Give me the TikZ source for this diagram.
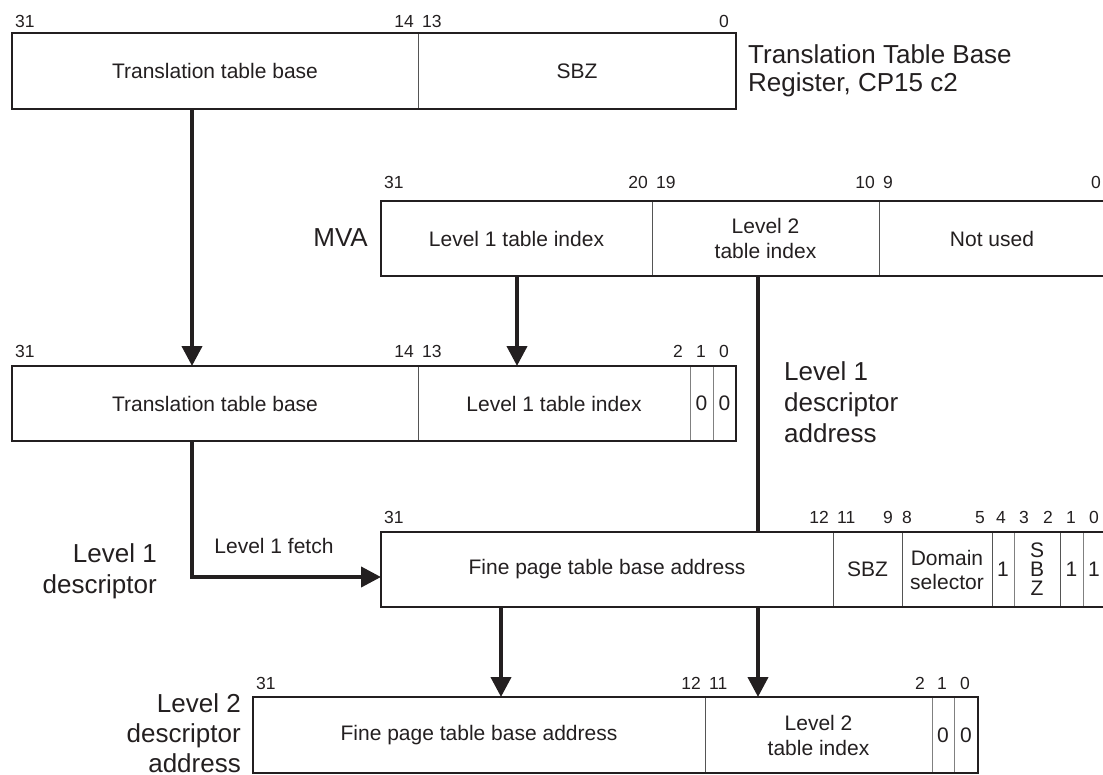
\documentclass[tikz,border=0pt]{standalone}
\usepackage{fontspec}
\setmainfont{Liberation Sans}
\usetikzlibrary{arrows.meta}
\definecolor{ink}{HTML}{231F20}
\definecolor{thinc}{HTML}{555555}
\newcommand\cfnt{\fontsize{21}{25}\selectfont}
\newcommand\bfnt{\fontsize{17.5}{20}\selectfont}
\newcommand\lfnt{\fontsize{26}{31}\selectfont}
\begin{document}
\begin{tikzpicture}[x=1pt,y=-1pt,
  cell/.style={draw=thinc, line width=0.9pt, inner sep=0pt, outer sep=0pt, anchor=north west, align=center, font=\cfnt, text=ink},
  reg/.style={draw=ink, line width=2pt},
  bit/.style={font=\bfnt, inner sep=0pt, text=ink},
  big/.style={font=\lfnt, inner sep=0pt, text=ink},
  wire/.style={draw=ink, line width=4pt},
  arr/.style={draw=ink, line width=4pt, -{Triangle[length=20pt,width=20pt]}}]
\useasboundingbox (0,0) rectangle (1103,774);

% ---------- Translation Table Base Register ----------
\node[cell, minimum width=406pt, minimum height=76pt] (r1a) at (12,33) {Translation table base};
\node[cell, minimum width=318pt, minimum height=76pt] (r1b) at (418,33) {SBZ};
\draw[reg] (r1a.north west) rectangle (r1b.south east);
\node[bit, anchor=base west] (r1l31) at (15,27) {31};
\node[bit, anchor=base east] (r1l14) at (414,27) {14};
\node[bit, anchor=base west] (r1l13) at (422,27) {13};
\node[bit, anchor=base east] (r1l0) at (729,27) {0};
\node[big, anchor=north west, align=left] (ttbr) at (748,44.5) {Translation Table Base\\[-3pt]Register, CP15 c2};

% ---------- MVA ----------
\node[cell, minimum width=271pt, minimum height=75pt] (mva) at (381,201) {Level 1 table index};
\node[cell, minimum width=227pt, minimum height=75pt] (mvb) at (652,201) {Level 2\\table index};
\node[cell, minimum width=226pt, minimum height=75pt] (mvc) at (879,201) {Not used};
\draw[reg] (mva.north west) rectangle (mvc.south east);
\node[bit, anchor=base west] (mvl31) at (384,188) {31};
\node[bit, anchor=base east] (mvl20) at (648,188) {20};
\node[bit, anchor=base west] (mvl19) at (656,188) {19};
\node[bit, anchor=base east] (mvl10) at (875,188) {10};
\node[bit, anchor=base west] (mvl9) at (883,188) {9};
\node[bit, anchor=base east] (mvl0) at (1101,188) {0};
\node[big, anchor=east] (mvalbl) at (368,238) {MVA};

% ---------- First level address ----------
\node[cell, minimum width=406pt, minimum height=75pt] (r3a) at (12,366) {Translation table base};
\node[cell, minimum width=272pt, minimum height=75pt] (r3b) at (418,366) {Level 1 table index};
\node[cell, draw=gray, minimum width=23pt, minimum height=75pt] (r3c) at (690,366) {0};
\node[cell, draw=gray, minimum width=23pt, minimum height=75pt] (r3d) at (713,366) {0};
\draw[reg] (r3a.north west) rectangle (r3d.south east);
\node[bit, anchor=base west] (r3l31) at (15,357) {31};
\node[bit, anchor=base east] (r3l14) at (414,357) {14};
\node[bit, anchor=base west] (r3l13) at (422,357) {13};
\node[bit, anchor=base] (r3l2) at (678,357) {2};
\node[bit, anchor=base] (r3l1) at (701,357) {1};
\node[bit, anchor=base] (r3l0) at (724,357) {0};
\node[big, anchor=north west, align=left] (l1dalbl) at (784,361.5) {Level 1\\descriptor\\address};

% ---------- Level 1 descriptor ----------
\node[cell, minimum width=452pt, minimum height=75pt] (r4a) at (381,532) {Fine page table base address};
\node[cell, minimum width=69pt, minimum height=75pt] (r4b) at (833,532) {SBZ};
\node[cell, minimum width=90pt, minimum height=75pt] (r4c) at (902,532) {Domain\\[-1pt]selector};
\node[cell, minimum width=22pt, minimum height=75pt] (r4d) at (992,532) {1};
\node[cell, draw=gray, minimum width=46pt, minimum height=75pt, font=\fontsize{21}{19}\selectfont] (r4e) at (1014,532) {S\\B\\Z};
\node[cell, minimum width=23pt, minimum height=75pt] (r4f) at (1060,532) {1};
\node[cell, draw=gray, minimum width=22pt, minimum height=75pt] (r4g) at (1083,532) {1};
\draw[reg] (r4a.north west) rectangle (r4g.south east);
\node[bit, anchor=base west] (r4l31) at (384,523) {31};
\node[bit, anchor=base east] (r4l12) at (829,523) {12};
\node[bit, anchor=base west] (r4l11) at (837,523) {11};
\node[bit, anchor=base] (r4l9) at (888,523) {9};
\node[bit, anchor=base] (r4l8) at (907,523) {8};
\node[bit, anchor=base] (r4l5) at (980,523) {5};
\node[bit, anchor=base] (r4l4) at (1001,523) {4};
\node[bit, anchor=base] (r4l3) at (1024,523) {3};
\node[bit, anchor=base] (r4l2) at (1048,523) {2};
\node[bit, anchor=base] (r4l1) at (1071,523) {1};
\node[bit, anchor=base] (r4l0) at (1094,523) {0};
\node[big, anchor=north east, align=right] (l1dlbl) at (157,543.4) {Level 1\\descriptor};

% ---------- Level 2 descriptor address ----------
\node[cell, minimum width=452pt, minimum height=76pt] (r5a) at (253,697) {Fine page table base address};
\node[cell, minimum width=227pt, minimum height=76pt] (r5b) at (705,697) {Level 2\\table index};
\node[cell, draw=gray, minimum width=22pt, minimum height=76pt] (r5c) at (932,697) {0};
\node[cell, draw=gray, minimum width=24pt, minimum height=76pt] (r5d) at (954,697) {0};
\draw[reg] (r5a.north west) rectangle (r5d.south east);
\node[bit, anchor=base west] (r5l31) at (256,689) {31};
\node[bit, anchor=base east] (r5l12) at (701,689) {12};
\node[bit, anchor=base west] (r5l11) at (709,689) {11};
\node[bit, anchor=base] (r5l2) at (920,689) {2};
\node[bit, anchor=base] (r5l1) at (942,689) {1};
\node[bit, anchor=base] (r5l0) at (965,689) {0};
\node[big, anchor=north east, align=right] (l2dlbl) at (241,693.4) {Level 2\\[-1pt]descriptor\\[-1pt]address};

% ---------- connectors ----------
\coordinate (xa) at (192,0);
\coordinate (xb) at (517,0);
\coordinate (xc) at (758,0);
\coordinate (xd) at (501,0);
\coordinate (yf) at (0,577);
\draw[arr] (r1a.south -| xa) -- (r3a.north -| xa);
\draw[arr] (mva.south -| xb) -- (r3b.north -| xb);
\draw[wire] (mvb.south -| xc) -- (r4a.north -| xc);
\draw[arr] (r4a.south -| xc) -- (r5b.north -| xc);
\draw[arr] (r4a.south -| xd) -- (r5a.north -| xd);
\draw[arr] (r3a.south -| xa) |- (r4a.west |- yf);
\node[font=\cfnt, text=ink, inner sep=0pt, anchor=base] (fetch) at (274,553) {Level 1 fetch};
\end{tikzpicture}
\end{document}
